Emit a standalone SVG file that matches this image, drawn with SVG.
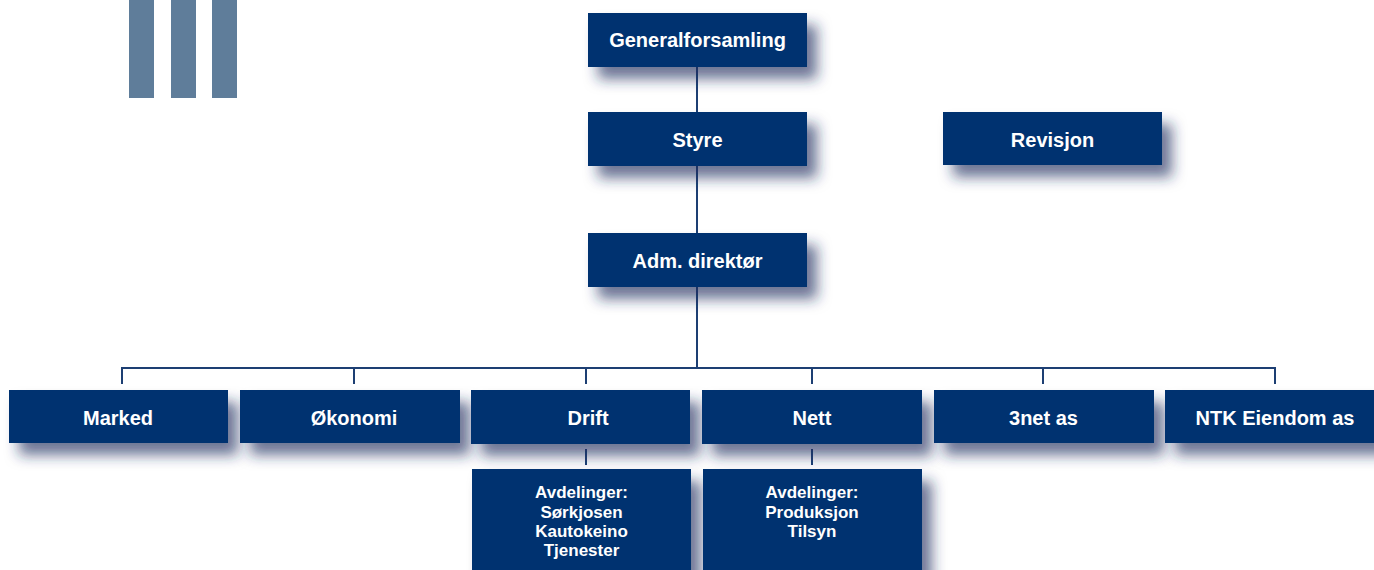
<svg xmlns="http://www.w3.org/2000/svg" width="1374" height="570" viewBox="0 0 1374 570">
<defs>
<filter id="sh" x="-20%" y="-40%" width="160%" height="220%">
<feDropShadow dx="10" dy="12" stdDeviation="7" flood-color="#1b2a5c" flood-opacity="0.65"/>
</filter>
<style>
.box{fill:#013070;filter:url(#sh)}
.t{font-family:"Liberation Sans",Arial,sans-serif;font-weight:bold;font-size:20px;fill:#ffffff;text-anchor:middle}
.s{font-family:"Liberation Sans",Arial,sans-serif;font-weight:bold;font-size:17px;fill:#ffffff;text-anchor:middle}
.c{stroke:#1d3f73;stroke-width:2;fill:none}
.bar{fill:#5f7d9a}
</style>
</defs>
<rect width="1374" height="570" fill="#ffffff"/>
<g id="logo">
<rect class="bar" x="129" y="0" width="25" height="98"/>
<rect class="bar" x="171" y="0" width="25" height="98"/>
<rect class="bar" x="212" y="0" width="25" height="98"/>
</g>
<g id="connectors">
<path class="c" d="M697 67V112M697 166V233M697 287V368M122 384V368H1275V384M354 368V384M586 368V384M812 368V384M1043 368V384M586 449V465M812 449V465"/>
</g>
<g id="generalforsamling"><rect class="box" x="588" y="13" width="219" height="54"/><text class="t" x="697.5" y="47">Generalforsamling</text></g>
<g id="styre"><rect class="box" x="588" y="112" width="219" height="54"/><text class="t" x="697.5" y="147">Styre</text></g>
<g id="revisjon"><rect class="box" x="943" y="112" width="219" height="53"/><text class="t" x="1052.5" y="147">Revisjon</text></g>
<g id="adm"><rect class="box" x="588" y="233" width="219" height="54"/><text class="t" x="697.5" y="268">Adm. direktør</text></g>
<g id="marked"><rect class="box" x="9" y="390" width="219" height="53"/><text class="t" x="118" y="425">Marked</text></g>
<g id="okonomi"><rect class="box" x="240" y="390" width="220" height="53"/><text class="t" x="354" y="425">Økonomi</text></g>
<g id="drift"><rect class="box" x="471" y="390" width="219" height="54"/><text class="t" x="588" y="425">Drift</text></g>
<g id="nett"><rect class="box" x="702" y="390" width="220" height="54"/><text class="t" x="812" y="425">Nett</text></g>
<g id="3net"><rect class="box" x="934" y="390" width="220" height="53"/><text class="t" x="1043.5" y="425">3net as</text></g>
<g id="ntk"><rect class="box" x="1165" y="390" width="220" height="53"/><text class="t" x="1275" y="425">NTK Eiendom as</text></g>
<g id="drift-avd"><rect class="box" x="472" y="469" width="219" height="110"/>
<text class="s" x="581.5" y="498">Avdelinger:</text>
<text class="s" x="581.5" y="518">Sørkjosen</text>
<text class="s" x="581.5" y="537">Kautokeino</text>
<text class="s" x="581.5" y="556">Tjenester</text></g>
<g id="nett-avd"><rect class="box" x="703" y="469" width="219" height="110"/>
<text class="s" x="812" y="498">Avdelinger:</text>
<text class="s" x="812" y="518">Produksjon</text>
<text class="s" x="812" y="537">Tilsyn</text></g>
</svg>
